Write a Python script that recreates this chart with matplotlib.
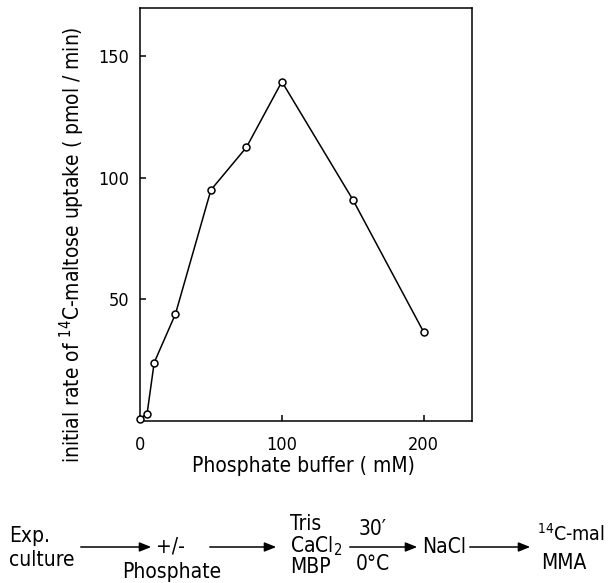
import matplotlib
matplotlib.use("Agg")
import matplotlib.pyplot as plt

# phosphate buffer concentration (mM) vs initial rate of 14C-maltose uptake
phosphate_mm = [0, 5, 10, 25, 50, 75, 100, 150, 200]
uptake_rate = [1, 3, 24, 44, 95, 112.5, 139.5, 91, 36.5]

x_ticks = [0, 100, 200]
y_ticks = [50, 100, 150]

W, H = 608, 583
plt.rcParams["font.family"] = "DejaVu Sans"
plt.rcParams["font.stretch"] = "condensed"
FS = 13      # tick labels
LFS = 15     # axis labels and scheme text


def px(x, y):
    return x / W, 1 - y / H


fig = plt.figure(figsize=(W / 100, H / 100), dpi=100)
ax = fig.add_axes([140 / W, 1 - 421 / H, 332 / W, 413.5 / H])

ax.plot(phosphate_mm, uptake_rate, color="black", lw=1.1, marker="o",
        ms=5, mfc="white", mec="black", mew=1.1, clip_on=False, zorder=3)

ax.set_xlim(0, 234)
ax.set_ylim(0, 170)
ax.set_xticks(x_ticks)
ax.set_yticks(y_ticks)
ax.tick_params(direction="in", length=4, width=1.1, labelsize=FS)
ax.tick_params(axis="x", pad=11)
ax.tick_params(axis="y", pad=8)
for s in ax.spines.values():
    s.set_linewidth(1.1)

fig.text(*px(303, 466), "Phosphate buffer ( mM)", ha="center", va="center", fontsize=LFS)
fig.text(*px(72, 245), "initial rate of $^{14}$C-maltose uptake ( pmol / min)",
         rotation=90, ha="center", va="center", fontsize=LFS)

# experimental scheme below the plot
def label(x, y, s, ha="left", fs=LFS):
    fig.text(*px(x, y), s, ha=ha, va="center", fontsize=fs)


def arrow(x0, x1, y=547):
    fig.add_artist(matplotlib.patches.FancyArrowPatch(
        px(x0, y), px(x1, y), transform=fig.transFigure,
        arrowstyle="-|>,head_length=0.5,head_width=0.2", mutation_scale=14,
        color="black", lw=1.1))


label(9, 536, "Exp.")
label(9, 560, "culture")
arrow(78, 154)
label(156, 547, "+/-")
label(172, 572, "Phosphate", ha="center")
arrow(207, 279)
label(290, 524, "Tris")
label(290, 546, "CaCl$_2$")
label(290, 567, "MBP")
arrow(347, 420)
label(373, 529, "30\u2032", ha="center")
label(373, 564, "0\u00b0C", ha="center")
label(422, 547, "NaCl")
arrow(467, 533)
label(537, 534, "$^{14}$C-mal", fs=14)
label(541, 563, "MMA")

fig.savefig("out.png", dpi=100)
